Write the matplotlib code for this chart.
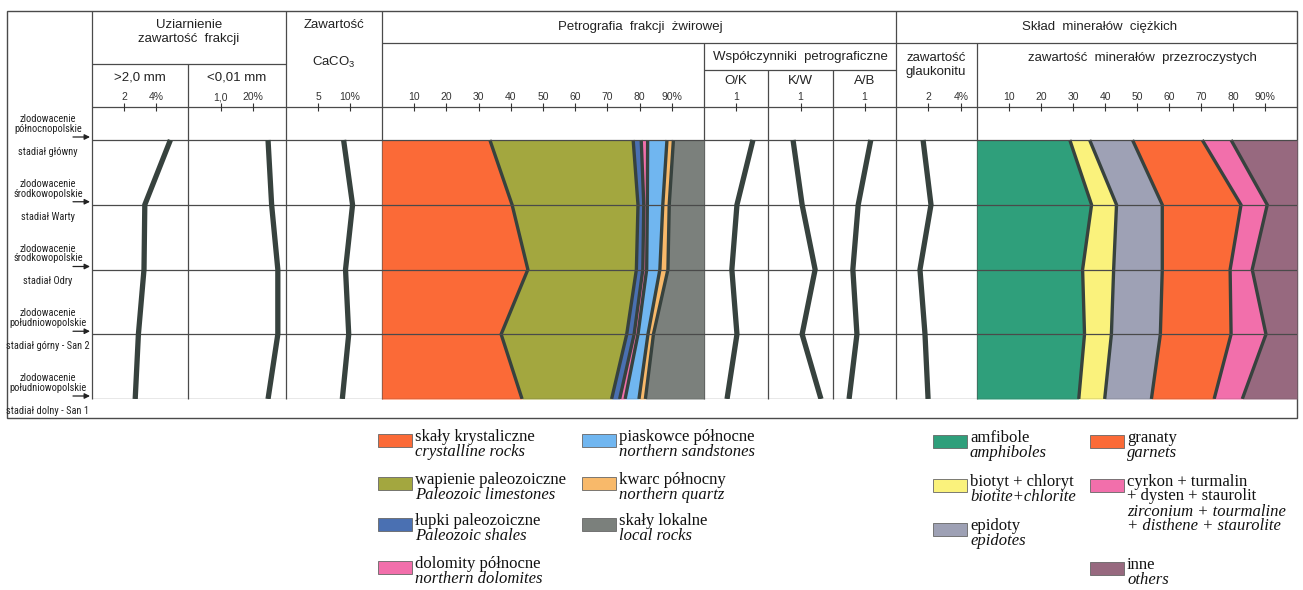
import matplotlib
matplotlib.use("Agg")
import matplotlib.pyplot as plt
from matplotlib import font_manager
from matplotlib.patches import Rectangle

# ---------------------------------------------------------------- data
levels = [0, 1, 2, 3, 4]
glaciations = ["zlodowacenie\npółnocnopolskie", "zlodowacenie\nśrodkowopolskie",
               "zlodowacenie\nśrodkowopolskie", "zlodowacenie\npołudniowopolskie",
               "zlodowacenie\npołudniowopolskie"]
stadials = ["stadiał główny", "stadiał Warty", "stadiał Odry",
            "stadiał górny - San 2", "stadiał dolny - San 1"]

gravel_gt2 = [4.9, 3.3, 3.25, 2.9, 2.7]
fines_lt001 = [24.5, 25.6, 27.5, 27.5, 24.5]
caco3 = [9.0, 10.4, 9.3, 9.8, 8.8]
ratio_ok = [1.53, 1.03, 0.87, 1.03, 0.72]
ratio_kw = [0.77, 1.05, 1.45, 1.05, 1.63]
ratio_ab = [1.20, 0.80, 0.63, 0.76, 0.51]
glauconite = [1.67, 2.16, 1.48, 1.79, 1.98]

crystalline = [33.5, 40.4, 45.3, 37.0, 43.5]
limestones = [44.5, 39.1, 33.7, 39.0, 27.8]
shales = [2.5, 1.8, 2.0, 2.3, 2.5]
dolomites = [2.0, 1.1, 1.2, 1.2, 1.7]
sandstones = [6.0, 4.8, 4.1, 3.1, 4.3]
quartz = [2.0, 2.0, 2.5, 1.7, 2.0]
local_rocks = [9.5, 10.8, 11.2, 15.7, 18.2]

amphiboles = [29.0, 35.8, 33.0, 33.6, 31.8]
biotite_chlorite = [6.2, 7.8, 9.7, 8.4, 8.1]
epidotes = [13.4, 14.3, 15.2, 15.3, 14.6]
garnets = [21.8, 24.6, 21.2, 22.1, 19.6]
zircon_group = [9.0, 8.2, 6.9, 10.9, 8.8]
others = [20.6, 9.3, 14.0, 9.7, 17.1]

pct_ticks = [10, 20, 30, 40, 50, 60, 70, 80, 90]
pct_labels = ["10", "20", "30", "40", "50", "60", "70", "80", "90%"]

gravel_names = ["skały krystaliczne", "wapienie paleozoiczne", "łupki paleozoiczne",
                "dolomity północne", "piaskowce północne", "kwarc północny", "skały lokalne"]
gravel_names_en = ["crystalline rocks", "Paleozoic limestones", "Paleozoic shales",
                   "northern dolomites", "northern sandstones", "northern quartz", "local rocks"]
gravel_colors = ["#fb6a37", "#a3a73f", "#4a70b2", "#f26fab", "#70b6f0", "#f8b96a", "#7b807c"]

mineral_names = ["amfibole", "biotyt + chloryt", "epidoty", "granaty",
                 "cyrkon + turmalin\n+ dysten + staurolit", "inne"]
mineral_names_en = ["amphiboles", "biotite+chlorite", "epidotes", "garnets",
                    "zirconium + tourmaline\n+ disthene + staurolite", "others"]
mineral_colors = ["#2f9f7b", "#faf27c", "#9ea1b5", "#fb6a37", "#f26fab", "#97697f"]

# ---------------------------------------------------------------- style
W, H = 1303, 590
LINE = "#37423e"
GRID = "#4a4a4a"
SANS = "Liberation Sans"
SERIF = "Liberation Serif"
available = {f.name for f in font_manager.fontManager.ttflist}
NARROW = SANS
for cand in ("Liberation Sans Narrow", "Roboto Condensed", "Open Sans Condensed"):
    if cand in available:
        NARROW = cand
        break

plt.rcParams["font.family"] = [SANS, "DejaVu Sans"]
plt.rcParams["mathtext.default"] = "regular"

fig = plt.figure(figsize=(W / 100, H / 100), dpi=100)
frame = fig.add_axes([0, 0, 1, 1])
frame.set_xlim(0, W)
frame.set_ylim(H, 0)
frame.axis("off")
renderer = fig.canvas.get_renderer()

Y_TOP, Y_TICK, Y_ROW0, Y_ROW4, Y_BOT = 11, 107, 140, 399, 418
X_LEFT, X_LAB, X_RIGHT = 7, 92, 1297


def hline(y, x0, x1, lw=0.9):
    frame.plot([x0, x1], [y, y], color=GRID, lw=lw, solid_capstyle="butt")


def vline(x, y0, y1, lw=0.9):
    frame.plot([x, x], [y0, y1], color=GRID, lw=lw, solid_capstyle="butt")


# table frame
frame.add_patch(Rectangle((X_LEFT, Y_TOP), X_RIGHT - X_LEFT, Y_BOT - Y_TOP,
                          fill=False, ec=GRID, lw=1.0))
for x in (92, 286, 382, 896):
    vline(x, Y_TOP, Y_ROW4)
vline(188, 64, Y_ROW4)
vline(704, 43, Y_ROW4)
vline(977, 43, Y_ROW4)
vline(768, 70, Y_ROW4)
vline(833, 70, Y_ROW4)
hline(43, 382, X_RIGHT)
hline(64, 92, 286)
hline(70, 704, 896)
hline(Y_TICK, 92, X_RIGHT)

# header texts
hdr = dict(ha="center", va="center", fontsize=9.5, color="#222222")
frame.text(189, 25, "Uziarnienie", **hdr)
frame.text(189, 39, "zawartość  frakcji", **hdr)
frame.text(140, 77, ">2,0 mm", **hdr)
frame.text(237, 77, "<0,01 mm", **hdr)
frame.text(334, 25, "Zawartość", **hdr)
frame.text(334, 62, "CaCO$_3$", **hdr)
frame.text(640, 27, "Petrografia  frakcji  żwirowej", **hdr)
frame.text(800, 57, "Współczynniki  petrograficzne", **hdr)
frame.text(736, 81, "O/K", **hdr)
frame.text(800, 81, "K/W", **hdr)
frame.text(865, 81, "A/B", **hdr)
frame.text(936, 58, "zawartość", **hdr)
frame.text(936, 72, "glaukonitu", **hdr)
frame.text(1100, 27, "Skład  minerałów  ciężkich", **hdr)
frame.text(1142, 58, "zawartość  minerałów  przezroczystych", **hdr)


def data_axes(x0, x1, xlim, ticks, labels):
    ax = fig.add_axes([x0 / W, 1 - Y_ROW4 / H, (x1 - x0) / W, (Y_ROW4 - Y_TICK) / H])
    top = (Y_TICK - Y_ROW0) / (Y_ROW4 - Y_ROW0) * (levels[-1] - levels[0])
    ax.set_ylim(levels[-1], top)
    ax.set_xlim(*xlim)
    ax.patch.set_visible(False)
    for s in ax.spines.values():
        s.set_visible(False)
    ax.set_yticks([])
    ax.xaxis.set_ticks_position("top")
    ax.set_xticks(ticks)
    ax.set_xticklabels(labels)
    ax.tick_params(axis="x", direction="inout", length=6, width=0.8, pad=0.5,
                   labelsize=7.5, colors="#333333")
    return ax


def row_lines(ax, z=3):
    for lv in levels:
        ax.axhline(lv, color=GRID, lw=0.9, zorder=z)


def profile(ax, values):
    row_lines(ax, z=1)
    ax.plot(values, levels, color=LINE, lw=3.8, solid_joinstyle="miter",
            solid_capstyle="butt", zorder=2)


def stacked(ax, parts, colors):
    left = [0.0] * len(levels)
    for vals, col in zip(parts, colors):
        right = [a + b for a, b in zip(left, vals)]
        ax.fill_betweenx(levels, left, right, color=col, lw=0, zorder=1)
        left = right
    left = [0.0] * len(levels)
    for vals in parts[:-1]:
        left = [a + b for a, b in zip(left, vals)]
        ax.plot(left, levels, color=LINE, lw=2.4, solid_capstyle="butt",
                solid_joinstyle="miter", zorder=2)
    row_lines(ax, z=3)


profile(data_axes(92, 188, (0, 6), [2, 4], ["2", "4%"]), gravel_gt2)
profile(data_axes(188, 286, (0, 30), [10, 20], ["1,0", "20%"]), fines_lt001)
profile(data_axes(286, 382, (0, 15), [5, 10], ["5", "10%"]), caco3)
stacked(data_axes(382, 704, (0, 100), pct_ticks, pct_labels),
        [crystalline, limestones, shales, dolomites, sandstones, quartz, local_rocks],
        gravel_colors)
profile(data_axes(704, 768, (0, 2), [1], ["1"]), ratio_ok)
profile(data_axes(768, 833, (0, 2), [1], ["1"]), ratio_kw)
profile(data_axes(833, 896, (0, 2), [1], ["1"]), ratio_ab)
profile(data_axes(896, 977, (0, 5), [2, 4], ["2", "4%"]), glauconite)
stacked(data_axes(977, X_RIGHT, (0, 100), pct_ticks, pct_labels),
        [amphiboles, biotite_chlorite, epidotes, garnets, zircon_group, others],
        mineral_colors)

# stratigraphic labels in the left column, one common size that fits the column
row_px = (Y_ROW4 - Y_ROW0) / (levels[-1] - levels[0])
label_texts = []
for lv, glac, stad in zip(levels, glaciations, stadials):
    y = Y_ROW0 + (lv - levels[0]) * row_px
    for yy, s, ls in ((y - 16, glac, 0.95), (y + 12, stad, 1.0)):
        label_texts.append(frame.text(48, yy, s, ha="center", va="center",
                                      fontsize=8.5, linespacing=ls,
                                      family=NARROW, color="#222222"))
    frame.annotate("", xy=(90, y - 3), xytext=(73, y - 3),
                   arrowprops=dict(arrowstyle="-|>", color="#222222", lw=0.9,
                                   mutation_scale=8, shrinkA=0, shrinkB=0))

size = 8.5
while size > 5 and max(t.get_window_extent(renderer).width for t in label_texts) > 84:
    size -= 0.25
    for t in label_texts:
        t.set_fontsize(size)


# legends
def legend_entry(x, y, color, pl, en):
    frame.add_patch(Rectangle((x, y), 34, 13, fc=color, ec="#666666", lw=0.6))
    n_pl = pl.count("\n") + 1
    frame.text(x + 37, y - 5, pl, ha="left", va="top", fontsize=12,
               family=SERIF, linespacing=0.85, color="#111111")
    frame.text(x + 37, y - 5 + 15 * n_pl, en, ha="left", va="top", fontsize=12,
               family=SERIF, style="italic", linespacing=0.85, color="#111111")


gravel_slots = [(378, 434), (378, 477), (378, 518), (378, 561),
                (582, 434), (582, 477), (582, 518)]
for (x, y), c, pl, en in zip(gravel_slots, gravel_colors, gravel_names, gravel_names_en):
    legend_entry(x, y, c, pl, en)

mineral_slots = [(933, 435), (933, 479), (933, 523), (1090, 435), (1090, 479), (1090, 562)]
for (x, y), c, pl, en in zip(mineral_slots, mineral_colors, mineral_names, mineral_names_en):
    legend_entry(x, y, c, pl, en)

fig.savefig("out.png", dpi=100)
